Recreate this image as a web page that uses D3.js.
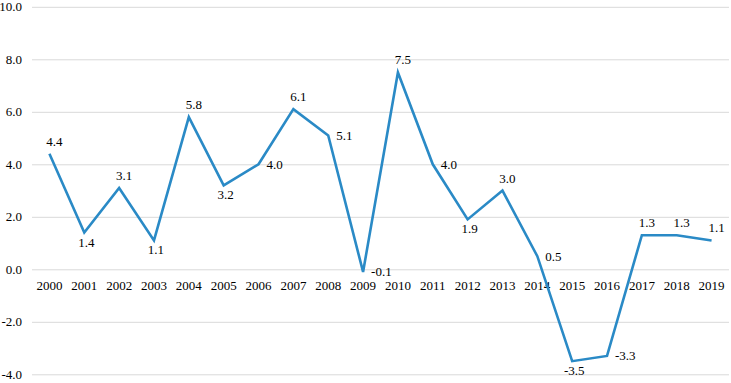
<!DOCTYPE html>
<html>
<head>
<meta charset="utf-8">
<script src="https://cdn.jsdelivr.net/npm/d3@7"></script>
<style>
body { margin: 0; background: #fff; }
text { font-family: "Liberation Serif", "Times New Roman", serif; fill: #000; }
</style>
</head>
<body>
<script>
var years = ["2000","2001","2002","2003","2004","2005","2006","2007","2008","2009",
             "2010","2011","2012","2013","2014","2015","2016","2017","2018","2019"]
var growth = [4.4, 1.4, 3.1, 1.1, 5.8, 3.2, 4.0, 6.1, 5.1, -0.1,
              7.5, 4.0, 1.9, 3.0, 0.5, -3.5, -3.3, 1.3, 1.3, 1.1]
var yTicks = [-4, -2, 0, 2, 4, 6, 8, 10]

var wd = 731, ht = 383

var svg = d3.select("body").append("svg")
  .attr("width", wd)
  .attr("height", ht)

var x = d3.scaleBand().domain(years).range([32, 729])
var y = d3.scaleLinear().domain([-4, 10]).range([374.3, 6.8])

// grid + y labels
var yAxis = svg.append("g")
  .attr("transform", "translate(32,0)")
  .call(d3.axisLeft(y).tickValues(yTicks).tickSize(-(729 - 32)).tickPadding(10)
    .tickFormat(function(d) { return d.toFixed(1) }))
yAxis.select(".domain").remove()
yAxis.selectAll("line").attr("stroke", "#d9d9d9").attr("stroke-width", 1)
yAxis.selectAll("text").style("font-size", "13px").attr("font-family", null).attr("fill", "#000")

// category labels sit on the zero line
var xAxis = svg.append("g")
  .attr("transform", "translate(0," + y(0) + ")")
  .call(d3.axisBottom(x).tickSize(0).tickPadding(11.5))
xAxis.select(".domain").remove()
xAxis.selectAll("text").style("font-size", "13px").attr("font-family", null).attr("fill", "#000")

var line = d3.line()
  .x(function(d, i) { return x(years[i]) + x.bandwidth() / 2 })
  .y(function(d) { return y(d) })

svg.append("path")
  .datum(growth)
  .attr("d", line)
  .attr("fill", "none")
  .attr("stroke", "#2a8ac6")
  .attr("stroke-width", 2.6)
  .attr("stroke-linejoin", "miter")

// where the label goes: peaks above, dips below, the rest to the right
function place(i) {
  var v = growth[i], p = growth[i - 1], n = growth[i + 1]
  if (p === undefined || n === undefined) return "above"
  if (v >= p && v >= n) return "above"
  if (v < p && v < n && Math.abs(v) > 0.5) return "below"
  return "right"
}

svg.append("g").selectAll("text")
  .data(growth)
  .join("text")
  .style("font-size", "13px")
  .attr("text-anchor", function(d, i) { return place(i) == "right" ? "start" : "middle" })
  .attr("x", function(d, i) {
    var cx = x(years[i]) + x.bandwidth() / 2
    var pl = place(i)
    if (pl == "right") return cx + 8
    if (pl == "below") return cx + 2
    return cx + 5
  })
  .attr("y", function(d, i) {
    var pl = place(i)
    if (pl == "above") return y(d) - 8
    if (pl == "below") return y(d) + 14
    return y(d) + 4.5
  })
  .text(function(d) { return d.toFixed(1) })
</script>
</body>
</html>
